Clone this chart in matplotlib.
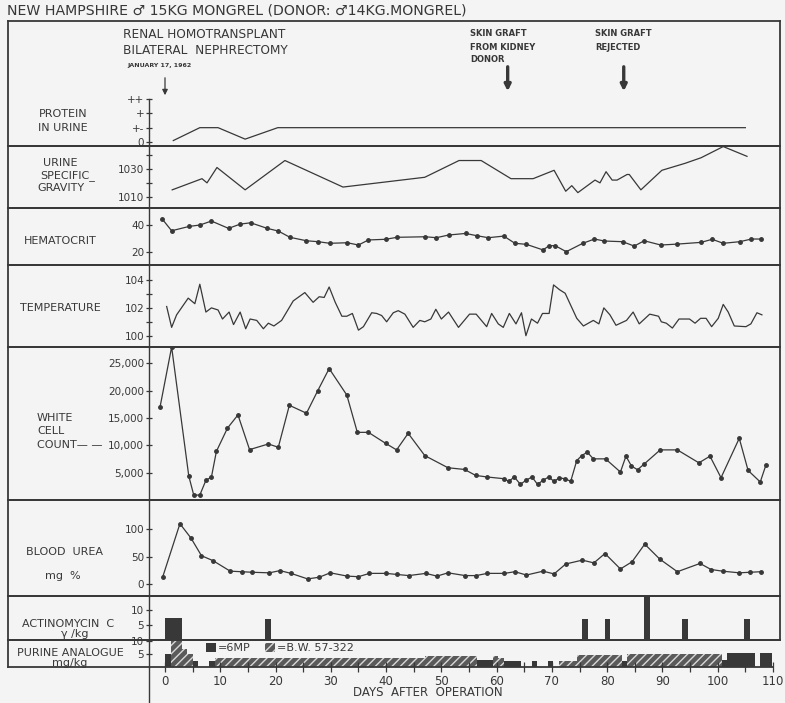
import matplotlib.pyplot as plt
from matplotlib.lines import Line2D
from matplotlib.patches import Patch

# ---- clinical course, days after operation ----
protein_days = [1.5, 6.3, 9.6, 14.5, 20.4, 105]
protein_vals = [0.1, 1, 1, 0.2, 1, 1]          # 0, +-, +, ++  ->  0..3
protein_ticks = ['0', '+-', '+', '++']

sg_days = [1.3, 6.7, 7.6, 9.4, 14.5, 21.7, 32.2, 47, 53.2, 57.2, 62.6, 66.6, 70.4,
           72.5, 73.6, 74.7, 77.8, 78.7, 79.8, 80.9, 81.8, 83.6, 84, 86.1, 89.9,
           94.1, 97, 101, 105.3]
sg_vals = [1015, 1023, 1020, 1031, 1015, 1036, 1017, 1024, 1036, 1036, 1023, 1023, 1029,
           1014, 1018, 1013, 1022, 1020, 1028, 1022, 1022, 1026, 1026, 1015, 1029,
           1034, 1038, 1046, 1039]

hct_days = [-0.5, 1.2, 4.4, 6.3, 8.4, 11.5, 13.6, 15.5, 18.5, 20.5, 22.6, 25.6, 27.7,
            29.8, 33, 35, 36.8, 39.9, 42, 47.1, 49.1, 51.3, 54.4, 56.4, 58.5, 61.3,
            63.3, 65.4, 68.4, 69.5, 70.6, 72.6, 75.6, 77.7, 79.5, 82.8, 84.9, 86.7,
            89.7, 92.7, 97, 99, 101, 104, 106.1, 107.9]
hct_vals = [44.5, 35.7, 39, 40, 43, 37.5, 40.7, 41.7, 37.5, 35.5, 30.8, 28.2, 27.5,
            26.3, 26.7, 25, 28.8, 29.3, 30.8, 31.2, 30.5, 32.5, 33.7, 32, 30.5, 31.7,
            26.3, 25.5, 21.3, 24.5, 24.5, 20, 26.3, 29.5, 28, 27.5, 24.2, 28.2,
            25, 25.7, 27, 29.3, 26.3, 27.5, 29.5, 29.5]

temp_days = [0.3, 1.2, 2.1, 4.2, 5.4, 6.3, 7.4, 8.4, 9.6, 10.4, 11.6, 12.4, 13.6, 14.6,
             15.4, 16.6, 17.8, 18.7, 19.7, 21.1, 23.2, 25.3, 26.8, 27.9, 28.8, 29.7,
             30.8, 32.0, 32.9, 33.9, 35.0, 35.9, 37.4, 38.3, 39.2, 40.1, 41.3, 42.2,
             43.4, 44.9, 46.1, 47.0, 48.1, 49.0, 50.0, 51.3, 53.1, 55.1, 56.3, 58.2,
             59.1, 60.3, 61.2, 62.3, 63.5, 64.5, 65.3, 66.3, 67.4, 68.3, 69.5, 70.3,
             71.4, 72.4, 74.5, 75.7, 77.5, 78.5, 79.4, 80.5, 81.6, 83.5, 84.7, 85.8,
             87.7, 89.3, 89.8, 90.7, 91.8, 93.0, 94.9, 95.9, 96.9, 97.9, 98.9, 100.1,
             101.0, 101.9, 103.0, 105.1, 106.0, 107.1, 108.0]
temp_vals = [102.1, 100.6, 101.5, 102.7, 102.3, 103.7, 101.7, 102.0, 101.85, 101.2, 101.7,
             100.8, 101.7, 100.5, 101.2, 101.1, 100.5, 100.9, 100.7, 101.1, 102.5, 103.1,
             102.4, 102.8, 102.75, 103.5, 102.4, 101.4, 101.4, 101.6, 100.4, 100.65,
             101.65, 101.6, 101.45, 101.0, 101.65, 101.8, 101.55, 100.6, 101.1, 101.0,
             101.2, 101.9, 101.2, 101.7, 100.6, 101.55, 101.55, 100.65, 101.6, 100.85,
             100.6, 101.6, 100.85, 101.65, 100.0, 101.2, 100.9, 101.6, 101.6, 103.65,
             103.3, 103.05, 101.25, 100.7, 101.1, 100.85, 102.0, 101.5, 100.75, 101.1,
             101.7, 100.85, 101.55, 101.4, 101.0, 100.9, 100.55, 101.2, 101.2, 100.9,
             101.25, 101.25, 100.65, 101.25, 102.25, 101.7, 100.7, 100.65, 100.85,
             101.65, 101.5]

wbc_days = [-0.9, 1.2, 4.3, 5.2, 6.3, 7.4, 8.4, 9.3, 11.3, 13.2, 15.3, 18.7, 20.5, 22.5,
            25.6, 27.6, 29.7, 32.9, 34.8, 36.8, 39.9, 41.9, 44.0, 47.0, 51.2, 54.2, 56.2,
            58.3, 61.3, 62.2, 63.2, 64.3, 65.3, 66.4, 67.4, 68.4, 69.4, 70.4, 71.3, 72.4,
            73.4, 74.5, 75.4, 76.4, 77.5, 79.7, 82.4, 83.4, 84.4, 85.5, 86.6, 89.6, 92.7,
            96.6, 98.6, 100.6, 103.9, 105.5, 107.7, 108.7]
wbc_vals = [17000, 28000, 4400, 900, 900, 3600, 4200, 8900, 13150, 15570, 9220, 10250,
            9650, 17330, 15880, 19930, 24050, 19200, 12380, 12380, 10380, 9170, 12200,
            8130, 5900, 5590, 4500, 4210, 3900, 3410, 4210, 2870, 3600, 4210, 2870, 3600,
            4210, 3410, 4030, 3900, 3410, 7220, 8130, 8750, 7530, 7530, 5120, 8020, 6210,
            5540, 6500, 9170, 9170, 6800, 8020, 4080, 11290, 5410, 3300, 6320]

urea_days = [-0.4, 2.7, 4.7, 6.6, 8.7, 11.8, 13.9, 15.8, 18.9, 20.8, 22.8, 25.8, 27.9,
             29.9, 33.0, 35.0, 37.0, 40.0, 42.0, 44.1, 47.2, 49.2, 51.2, 54.3, 56.3, 58.3,
             61.4, 63.3, 65.4, 68.4, 70.4, 72.5, 75.5, 77.6, 79.6, 82.4, 84.5, 86.8, 89.5,
             92.7, 96.8, 98.8, 100.9, 103.9, 105.8, 107.8]
urea_vals = [14, 110, 84, 52, 43, 24, 23, 22, 21, 25, 20, 10, 13, 21, 15, 14, 20, 20, 18,
             16, 20, 15, 21, 16, 16, 20, 20, 23, 17, 24, 19, 37, 44, 39, 56, 28, 41, 73,
             46, 23, 38, 27, 24, 21, 22, 23]

actino_days = [0, 1, 2, 18.1, 75.5, 79.6, 86.7, 93.6, 104.8]
actino_dose = [7.5, 7.5, 7.5, 7, 7, 7, 15, 7, 7]

# purine analogue runs: (first day, last day, mg/kg)
mp6_runs = [(0, 1, 5), (5, 6, 2.5), (8, 9, 2.5), (56.5, 59.3, 2.8), (61.3, 64.5, 2.4),
            (66.4, 67.3, 2.4), (69.3, 70.2, 2.4), (82.7, 83.6, 2.5), (100.8, 101.7, 2.8),
            (101.7, 106.7, 5.5), (107.6, 109.8, 5.5)]
bw_runs = [(1, 3, 10), (3, 4, 7), (4, 5, 5), (9, 47, 3.5), (47, 56.5, 4.4),
           (59.3, 60.2, 4.4), (60.2, 61.3, 3.5), (71.3, 74.5, 2.5), (74.5, 82.7, 4.8),
           (83.6, 100.8, 5)]

event_days = [0, 62, 83]

# ---- layout (pixel grid of the sheet) ----
W, H = 785, 703
INK = '#383838'
PAPER = '#f4f4f4'
HATCH_FACE, HATCH_LINE = '#5a5a5a', '#d8d8d8'
DAY0_PX, PX_PER_DAY = 165, 5.527
X_LEFT, X_RIGHT, AXIS_PX = 8, 780, 149

fig = plt.figure(figsize=(W / 100, H / 100), dpi=100, facecolor=PAPER)


def day(px):
    return (px - DAY0_PX) / PX_PER_DAY


def fy(py):
    return 1 - py / H


def ftext(px, py, s, size=8, ha='center', **kw):
    fig.text(px / W, fy(py), s, color=INK, fontsize=size, ha=ha, va='center', **kw)


def panel(top, bottom, ylim, ticks, labels):
    ax = fig.add_axes([X_LEFT / W, fy(bottom), (X_RIGHT - X_LEFT) / W, (bottom - top) / H])
    ax.set_xlim(day(X_LEFT), day(X_RIGHT))
    ax.set_ylim(*ylim)
    ax.patch.set_visible(False)
    for s in ax.spines.values():
        s.set_color(INK)
        s.set_linewidth(1.3)
    ax.spines['left'].set_position(('data', day(AXIS_PX)))
    ax.spines['left'].set_linewidth(1.0)
    ax.set_yticks(ticks)
    ax.set_yticklabels(labels)
    ax.tick_params(axis='y', direction='inout', length=5, width=0.9, color=INK,
                   labelsize=7.5, labelcolor=INK, pad=1)
    ax.tick_params(axis='x', bottom=False, labelbottom=False)
    return ax


line_kw = dict(color=INK, lw=0.9)
dot_kw = dict(color=INK, lw=0.9, marker='o', ms=2.5)

# protein in urine
ax = panel(21, 146, (-0.28, 8.45), [0, 1, 2, 3], protein_ticks)
ax.spines['left'].set_bounds(-0.28, 3)
ax.plot(protein_days, protein_vals, **line_kw)
ax.annotate('', xy=(event_days[0], fy(98)), xytext=(event_days[0], fy(75)),
            xycoords=('data', 'figure fraction'), textcoords=('data', 'figure fraction'),
            arrowprops=dict(arrowstyle='-|>', color=INK, lw=0.9, mutation_scale=8))
for d in event_days[1:]:
    ax.annotate('', xy=(d, fy(94)), xytext=(d, fy(64)),
                xycoords=('data', 'figure fraction'), textcoords=('data', 'figure fraction'),
                arrowprops=dict(arrowstyle='-|>', color=INK, lw=2.4, mutation_scale=9))

# urine specific gravity
ax = panel(146, 208, (1002, 1046.4), [1010, 1020, 1030, 1040], ['1010', '', '1030', ''])
ax.plot(sg_days, sg_vals, **line_kw)

# hematocrit
ax = panel(208, 265, (10, 52.8), [20, 40], ['20', '40'])
ax.plot(hct_days, hct_vals, **dot_kw)

# temperature
ax = panel(265, 347, (99.19, 105.08), [100, 101, 102, 103, 104], ['100', '', '102', '', '104'])
ax.plot(temp_days, temp_vals, **line_kw)

# white cell count
ax = panel(347, 500, (0, 28000), [5000, 10000, 15000, 20000, 25000],
           ['5,000', '10,000', '15,000', '20,000', '25,000'])
ax.plot(wbc_days, wbc_vals, **dot_kw)

# blood urea
ax = panel(500, 596, (-21, 153), [0, 50, 100], ['0', '50', '100'])
ax.plot(urea_days, urea_vals, **dot_kw)

# actinomycin C
ax = panel(596, 640, (0, 14.7), [5, 10], ['5', '10'])
ax.bar(actino_days, actino_dose, width=1, align='edge', color=INK, lw=0)

# purine analogue
ax = panel(640, 667, (0, 10.4), [5, 10], ['5', '10'])
ax.spines['right'].set_visible(False)
ax.spines['bottom'].set_bounds(day(X_LEFT), 110)
ax.bar([r[0] for r in mp6_runs], [r[2] for r in mp6_runs],
       width=[r[1] - r[0] for r in mp6_runs], align='edge', color=INK, lw=0)
ax.bar([r[0] for r in bw_runs], [r[2] for r in bw_runs],
       width=[r[1] - r[0] for r in bw_runs], align='edge', color=HATCH_FACE,
       edgecolor=HATCH_LINE, hatch='////', lw=0)
ax.set_xticks(range(0, 111, 10))
ax.set_xticks(range(5, 110, 10), minor=True)
ax.set_xticklabels(['0', '10', '20', '30', '40', '50', '60', '70', '80', '90', '100', '110'])
ax.tick_params(axis='x', which='both', bottom=True, labelbottom=True, direction='inout',
               length=7, width=0.9, color=INK, labelsize=8.5, labelcolor=INK, pad=2)
ax.legend(handles=[Patch(facecolor=INK),
                   Patch(facecolor=HATCH_FACE, edgecolor=HATCH_LINE, hatch='////', lw=0)],
          labels=['=6MP', '=B.W. 57-322'], ncol=2, frameon=False, fontsize=8,
          handlelength=0.9, handleheight=0.9, handletextpad=0.2, columnspacing=1.3,
          borderpad=0, loc='center left', bbox_to_anchor=(200 / W, fy(648)),
          bbox_transform=fig.transFigure, labelcolor=INK)

# outer frame pieces
fig.add_artist(Line2D([X_LEFT / W, X_LEFT / W], [fy(21), fy(667)], color=INK, lw=1.3))
fig.add_artist(Line2D([AXIS_PX / W, AXIS_PX / W], [fy(667), fy(703)], color=INK, lw=1.0))

# lettering
ftext(7, 10, 'NEW HAMPSHIRE \u2642 15KG MONGREL (DONOR: \u264214KG.MONGREL)', size=10.2, ha='left')
ftext(123, 35, 'RENAL HOMOTRANSPLANT', size=8.7, ha='left')
ftext(123, 51, 'BILATERAL  NEPHRECTOMY', size=8.7, ha='left')
ftext(127, 65, 'JANUARY 17, 1962', size=4.5, ha='left', fontweight='bold')
ftext(470, 34, 'SKIN GRAFT', size=6, ha='left', fontweight='bold')
ftext(470, 47, 'FROM KIDNEY', size=6, ha='left', fontweight='bold')
ftext(470, 59, 'DONOR', size=6, ha='left', fontweight='bold')
ftext(595, 34, 'SKIN GRAFT', size=6, ha='left', fontweight='bold')
ftext(595, 47, 'REJECTED', size=6, ha='left', fontweight='bold')

ftext(63, 114, 'PROTEIN')
ftext(63, 128, 'IN URINE')
ftext(60, 163, 'URINE')
ftext(68, 176, 'SPECIFIC_')
ftext(61, 188, 'GRAVITY')
ftext(60, 241, 'HEMATOCRIT')
ftext(60, 308, 'TEMPERATURE')
ftext(37, 418, 'WHITE', ha='left')
ftext(37, 431, 'CELL', ha='left')
ftext(37, 445, 'COUNT\u2014 \u2014', ha='left')
ftext(65, 552, 'BLOOD  UREA')
ftext(63, 576, 'mg  %')
ftext(68, 624, 'ACTINOMYCIN  C')
ftext(75, 634, '\u03b3 /kg')
ftext(70, 653, 'PURINE ANALOGUE')
ftext(70, 663, 'mg/kg')
ftext(428, 693, 'DAYS  AFTER  OPERATION', size=8.5)

fig.savefig('out.png', dpi=100, facecolor=PAPER)
